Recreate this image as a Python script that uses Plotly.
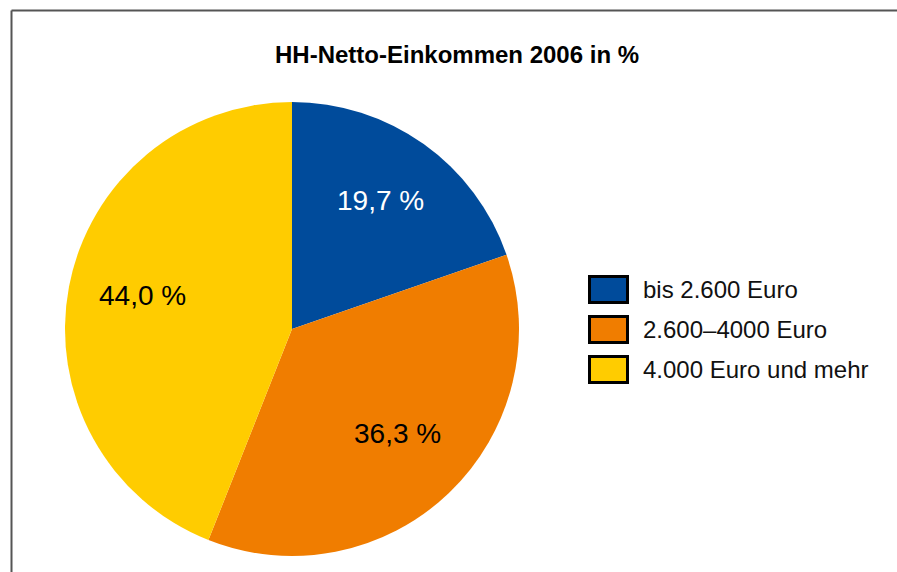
import math
import plotly.graph_objects as go

categories = ["bis 2.600 Euro", "2.600–4000 Euro", "4.000 Euro und mehr"]
shares = [19.7, 36.3, 44.0]
colors = ["#004B9B", "#F07D00", "#FFCC00"]
label_colors = ["white", "black", "black"]

W, H = 897, 572
font = "Liberation Sans, Arial, sans-serif"

# pie geometry in pixels (center, radius)
cx, cy, r = 292, 329, 227

fig = go.Figure(
    go.Pie(
        labels=categories,
        values=shares,
        textinfo="none",
        marker=dict(colors=colors, line=dict(width=0)),
        sort=False,
        direction="clockwise",
        rotation=0,
        showlegend=False,
        hoverinfo="label+percent",
        domain=dict(x=[(cx - r) / W, (cx + r) / W], y=[1 - (cy + r) / H, 1 - (cy - r) / H]),
    )
)

shapes = [
    # frame: left and top edges only
    dict(type="line", xref="paper", yref="paper", x0=11.5 / W, x1=11.5 / W, y0=0, y1=1 - 10.5 / H,
         line=dict(color="#555555", width=2)),
    dict(type="line", xref="paper", yref="paper", x0=11.5 / W, x1=1, y0=1 - 10.5 / H, y1=1 - 10.5 / H,
         line=dict(color="#555555", width=2)),
]
annotations = [
    dict(text="<b>HH-Netto-Einkommen 2006 in %</b>", x=457 / W, y=1 - 55 / H, xref="paper", yref="paper",
         showarrow=False, font=dict(family=font, size=24, color="black"), xanchor="center", yanchor="middle"),
]

# slice labels at 2/3 of the radius on each slice's mid angle
total = sum(shares)
cum = 0
for v, c in zip(shares, label_colors):
    mid = (cum + v / 2) / total * 2 * math.pi
    cum += v
    px = cx + 0.67 * r * math.sin(mid)
    py = cy - 0.67 * r * math.cos(mid)
    annotations.append(dict(text=f"{v:.1f}".replace(".", ",") + " %", x=px / W, y=1 - py / H,
                            xref="paper", yref="paper", showarrow=False,
                            xanchor="center", yanchor="middle", yshift=5,
                            font=dict(family=font, size=28, color=c)))

# legend drawn by hand so the boxes match the big framed swatches
for i, (cat, col) in enumerate(zip(categories, colors)):
    top = 276.5 + i * 40
    shapes.append(dict(type="rect", xref="paper", yref="paper",
                       x0=589.5 / W, x1=627.5 / W, y0=1 - (top + 26) / H, y1=1 - top / H,
                       fillcolor=col, line=dict(color="black", width=3)))
    annotations.append(dict(text=cat, x=641 / W, y=1 - (top + 13) / H, xref="paper", yref="paper",
                            showarrow=False, xanchor="left", yanchor="middle",
                            font=dict(family=font, size=24, color="#111111")))

fig.update_layout(
    width=W,
    height=H,
    margin=dict(l=0, r=0, t=0, b=0),
    paper_bgcolor="white",
    plot_bgcolor="white",
    shapes=shapes,
    annotations=annotations,
)

fig.write_html("out.html", config={"displayModeBar": False},
               post_script="document.body.style.margin='0';")
